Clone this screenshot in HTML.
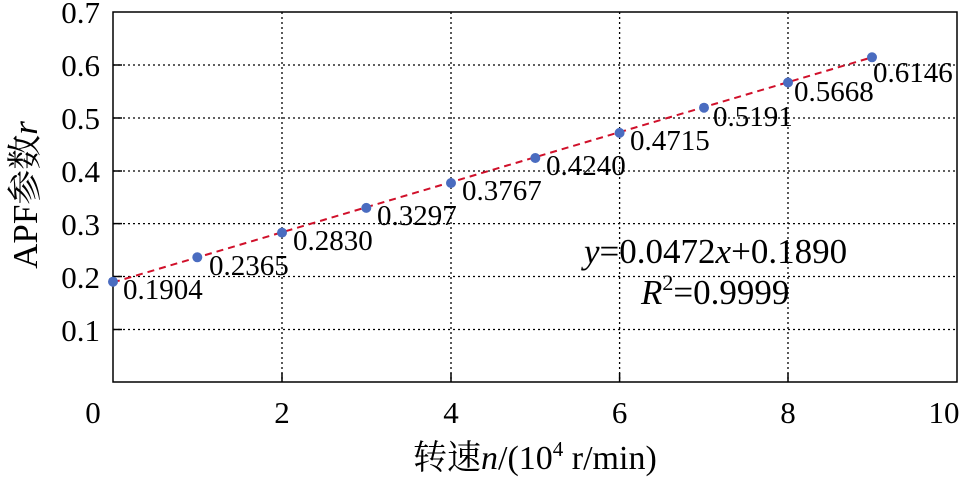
<!DOCTYPE html>
<html><head><meta charset="utf-8"><style>body{margin:0;background:#fff}svg{display:block}</style></head><body>
<svg width="973" height="478" xmlns="http://www.w3.org/2000/svg" font-family="'Liberation Serif','Noto Serif CJK SC',serif">
<g stroke="#000" stroke-width="1.3" stroke-dasharray="2,3">
<line x1="282" y1="12" x2="282" y2="382"/><line x1="451" y1="12" x2="451" y2="382"/><line x1="619.6" y1="12" x2="619.6" y2="382"/><line x1="788" y1="12" x2="788" y2="382"/>
<line x1="113" y1="65" x2="957" y2="65"/><line x1="113" y1="118" x2="957" y2="118"/><line x1="113" y1="171" x2="957" y2="171"/><line x1="113" y1="223.6" x2="957" y2="223.6"/><line x1="113" y1="276.5" x2="957" y2="276.5"/><line x1="113" y1="329.5" x2="957" y2="329.5"/>
</g>
<g stroke="#000" stroke-width="1.5">
<rect x="113" y="12" width="844" height="370" fill="none"/>
<line x1="282" y1="382" x2="282" y2="373"/><line x1="451" y1="382" x2="451" y2="373"/><line x1="619.6" y1="382" x2="619.6" y2="373"/><line x1="788" y1="382" x2="788" y2="373"/>
<line x1="113" y1="65" x2="122" y2="65"/><line x1="113" y1="118" x2="122" y2="118"/><line x1="113" y1="171" x2="122" y2="171"/><line x1="113" y1="223.6" x2="122" y2="223.6"/><line x1="113" y1="276.5" x2="122" y2="276.5"/><line x1="113" y1="329.5" x2="122" y2="329.5"/>
</g>
<g font-size="31" text-anchor="end" fill="#000">
<text x="100" y="23">0.7</text><text x="100" y="76">0.6</text><text x="100" y="129">0.5</text><text x="100" y="182">0.4</text><text x="100" y="235">0.3</text><text x="100" y="288">0.2</text><text x="100" y="341">0.1</text>
</g>
<g font-size="31" text-anchor="middle">
<text x="93" y="423">0</text><text x="282" y="423">2</text><text x="451" y="423">4</text><text x="619.6" y="423">6</text><text x="788" y="423">8</text><text x="944" y="423">10</text>
</g>
<line x1="113" y1="282.4" x2="872" y2="57.3" stroke="#d0102a" stroke-width="2" stroke-dasharray="7,5"/>
<g fill="#4a6cc0">
<circle cx="113" cy="281.7" r="5"/><circle cx="197.3" cy="257.3" r="5"/><circle cx="282" cy="232.6" r="5"/><circle cx="366.3" cy="207.9" r="5"/><circle cx="451" cy="183" r="5"/><circle cx="535.3" cy="158" r="5"/><circle cx="619.6" cy="132.9" r="5"/><circle cx="704" cy="107.7" r="5"/><circle cx="788" cy="82.5" r="5"/><circle cx="872" cy="57.3" r="5"/>
</g>
<g font-size="29">
<text x="123" y="299">0.1904</text><text x="209" y="275">0.2365</text><text x="293" y="250">0.2830</text><text x="377" y="225">0.3297</text><text x="462" y="200">0.3767</text><text x="546" y="175">0.4240</text><text x="630" y="150">0.4715</text><text x="713" y="126">0.5191</text><text x="794" y="101">0.5668</text><text x="873" y="82">0.6146</text>
</g>
<g font-size="35">
<text x="584" y="263"><tspan font-style="italic">y</tspan>=0.0472<tspan font-style="italic">x</tspan>+0.1890</text>
<text x="641" y="304"><tspan font-style="italic">R</tspan><tspan font-size="22" dy="-14">2</tspan><tspan dy="14">=0.9999</tspan></text>
</g>
<text x="413" y="469" font-size="34">转速<tspan font-style="italic">n</tspan>/(10<tspan font-size="21" dy="-13">4</tspan><tspan dy="13"> r/min)</tspan></text>
<text transform="translate(37,195) rotate(-90)" font-size="35" text-anchor="middle">APF参数<tspan font-style="italic">r</tspan></text>
</svg>
</body></html>
